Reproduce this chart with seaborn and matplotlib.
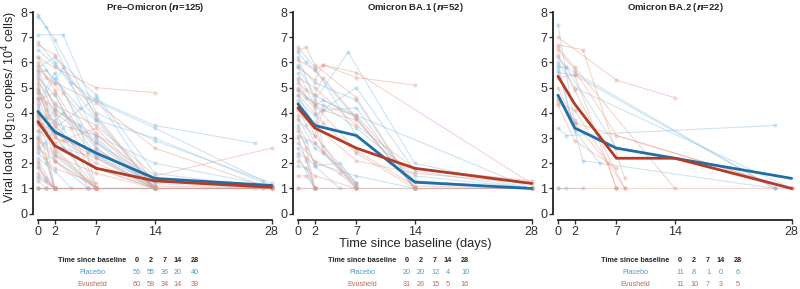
import matplotlib
matplotlib.use("Agg")
import matplotlib.pyplot as plt
import seaborn as sns
import pandas as pd

# panels, sample sizes, scheduled days
panels = ["Pre\u2212Omicron", "Omicron BA.1", "Omicron BA.2"]
n_patients = [125, 52, 22]
days = [0, 2, 7, 14, 28]
arms = ["Placebo", "Evusheld"]

# mean viral load per panel / arm at the scheduled days
mean_placebo = [
    [4.05, 3.25, 2.4, 1.4, 1.12],
    [4.35, 3.5, 3.1, 1.25, 1.0],
    [4.7, 3.4, 2.6, 2.2, 1.4],
]
mean_evusheld = [
    [3.65, 2.7, 1.8, 1.3, 1.05],
    [4.2, 3.4, 2.6, 1.8, 1.2],
    [5.45, 4.35, 2.2, 2.2, 1.0],
]

# numbers at risk under each panel
risk_placebo = [[56, 55, 36, 20, 40], [20, 20, 12, 4, 10], [11, 8, 1, 0, 6]]
risk_evusheld = [[60, 58, 34, 14, 39], [31, 26, 15, 5, 16], [11, 10, 7, 3, 5]]

# individual patient trajectories, "day:value" pairs
pre_placebo = [
    "0:7.9 2:6.9 7:3.8 14:1", "0:7.8 1:7.4 4:5.2 7:4.5 14:3.5 26:2.8",
    "0:7.1 3:7.1 7:4 14:2.9 28:1.2", "0:6.5 2:5.9 6:4.6 14:3.4 27:1.3",
    "0:5.8 2:6.2 7:4.7 14:1.6 28:1", "0:5.6 1:5.7 5:4.2 7:3.7 14:1",
    "0:5.2 2:4.4 7:2.6 14:1.1", "0:4.9 2:3.9 6:1", "0:4.6 1:3.8 2:2.3 7:1",
    "0:4.4 2:5.6 5:3.5 7:1", "0:4.1 2:3.2 3:2.6 7:1.8 14:1", "0:3.9 2:2.7 7:2.2 14:1",
    "0:3.6 1:2.8 2:1", "0:3.3 2:4.1 3:3.4 7:1", "0:3.0 2:2.4 7:1", "0:2.8 1:2 2:1",
    "0:2.5 2:3.3 7:2.3 14:1.2 28:1", "0:2.2 2:1.7 4:1", "0:2.0 1:1.4 2:1",
    "0:1.8 2:1 7:1 14:1", "0:1.5 2:1", "0:1.3 1:1", "0:5.0 2:3.6 7:3.1 14:2.0 28:1.1",
    "0:6.8 2:6.0 7:3.7 14:3.0 28:1.1", "0:5.4 2:4.7 6:2.5 14:1 27:1",
    "0:4.2 2:5.4 7:2.6 14:1 28:1", "0:3.1 3:4 7:2.9 14:1", "0:6.2 2:5.2 3:5.8 7:3.0 14:1",
    "0:1 2:1 7:1 14:1 28:1", "0:2.6 2:2.1 6:1 14:1", "0:4.8 1:4.1 2:3.4 7:4.6 14:1.1",
    "0:1 1:1 2:1 6:1 26:1", "0:5.7 2:4.2 7:2.8 14:1.4 28:1.1",
]
pre_evusheld = [
    "0:6.7 2:6.3 7:3.9 14:1", "0:6.2 2:5.8 7:5 14:4.8", "0:5.9 1:5.4 3:4.8 7:3.2 14:1",
    "0:5.5 2:4.3 7:3.5 14:1.5 28:2.6", "0:5.3 2:4 7:2.8 14:1", "0:5.1 1:3.9 2:3.1 7:1",
    "0:4.8 2:3.5 7:1.8 14:1", "0:4.5 2:4.8 4:3.4 7:1", "0:4.3 2:3.0 7:2.5 14:1.3 28:1",
    "0:4.0 2:2.6 7:1", "0:3.8 1:3.3 2:2.1 7:1", "0:3.5 2:1", "0:3.3 2:2.8 7:3.4 14:1",
    "0:3.0 2:2.1 7:1", "0:2.7 1:2.2 2:1", "0:2.4 2:1.8 7:1.2", "0:2.1 2:1",
    "0:1.9 1:1.3 2:1", "0:1.6 2:1", "0:1 2:1 7:1 14:1 28:1", "0:5.7 2:5.2 7:4.4 14:2.6 28:1",
    "0:4.9 2:4.1 7:3.1 14:1.4 28:1.1", "0:3.7 2:3.2 6:2.4 14:1.1 28:1",
    "0:2.9 2:2.3 7:1.6 14:1 28:1", "0:6.0 2:4.9 7:2.2 14:1", "0:4.6 1:4.4 2:2.5 7:1",
    "0:1.4 2:1 7:1", "0:3.9 2:3.7 3:2.9 7:2 14:1", "0:1 1:1 2:1 7:1 27:1",
]
ba1_placebo = [
    "0:6.6 2:5.8 7:3.1 14:1.3 28:1", "0:6.4 1:6 2:5.7 14:1", "0:6.2 2:4.5 6:6.4 14:2 28:1",
    "0:5.9 2:5.2 7:4.5 14:1", "0:5.6 2:4.3 3:4.5 7:3.9 28:1", "0:5.3 1:4.6 3:4.1 7:4.2 14:1",
    "0:4.9 2:4.2 3:2.7 7:1.2", "0:4.5 2:3.9 7:5 14:1.7 28:1", "0:4.2 1:3.5 2:2.8 7:1",
    "0:3.8 2:2.6 3:2.4 7:1.1", "0:3.5 1:2.9 2:1.9 5:1", "0:3.3 2:2 7:1.5 14:1",
    "0:3.0 1:2.1 2:1", "0:2.6 2:1.9 5:2 7:1.2", "0:2.3 2:1", "0:1.9 1:1.8 2:1",
    "0:1 2:1 7:1 14:1 28:1", "0:4.7 2:3.5 3:4.3 7:3.4 14:1.5 28:1",
    "0:5.8 2:4.7 7:3.8 14:1 28:1",
]
ba1_evusheld = [
    "0:6.5 1:6.6 2:5.9 7:4.6 14:1 28:1", "0:6.1 2:5.7 3:5.9 7:5.4 14:5.1",
    "0:5.8 2:5.3 3:5.9 7:5.6 28:1.2", "0:5.4 2:5 7:3.5 14:1.8 28:1.3",
    "0:5.2 1:4.9 2:4.7 3:5.4 7:3.8 14:1", "0:4.9 2:4.4 7:3.9 14:1.3 28:1",
    "0:4.7 2:4 3:3.6 7:2.4 14:1", "0:4.4 1:3.8 2:3.1 7:1", "0:4.1 2:3.5 7:2.1 14:1.6 28:1.2",
    "0:3.7 2:3.1 3:4.1 7:3.7", "0:3.4 1:2.6 2:1", "0:3.1 2:2.8 7:1.2",
    "0:2.8 2:2.1 5:1.6 7:1", "0:2.4 1:2.2 2:1", "0:2.1 2:1.5 7:1", "0:1.5 1:1.5 2:1",
    "0:1 2:1 7:1 14:1 28:1", "0:5.0 2:4.3 7:2.5 14:1.1 28:1", "0:3.9 2:3.6 3:2.5 7:1.1",
]
ba2_placebo = [
    "0:7.5 2:3.6", "0:6.2 1:5.8 2:5.6 26:1", "0:6.0 2:5.0 28:1", "0:5.8 1:5.8 7:2.6",
    "0:5.6 2:5.5 26:1", "0:5.7 3:2.1 26:1", "0:3.4 1:3.1 26:3.5", "0:1 1:1 3:1",
    "0:4.6 2:3.7", "0:5.9 2:3.3 5:2.0",
]
ba2_evusheld = [
    "0:7.0 7:5.3 14:4.6", "0:6.7 3:6.5 8:1.4", "0:6.6 2:5.8 14:1", "0:6.5 2:5.7 7:3.1 28:1",
    "0:6.3 2:4.9 8:1", "0:5.4 2:5.5 7:1", "0:4.5 2:3.6 28:1", "0:4.3 2:2.9 7:1.8",
    "0:1 7:1 28:1", "0:5.0 2:3.6 6:2 7:1", "0:4.4 2:4.1 8:1",
]
trajectories = [
    (pre_placebo, pre_evusheld),
    (ba1_placebo, ba1_evusheld),
    (ba2_placebo, ba2_evusheld),
]


def to_frame(trajs, arm):
    rows = []
    for pid, s in enumerate(trajs):
        for pair in s.split():
            d, v = pair.split(":")
            rows.append({"pid": f"{arm}{pid}", "arm": arm, "day": float(d), "vl": float(v)})
    return pd.DataFrame(rows)


light = {"Placebo": "#84bcdf", "Evusheld": "#e59a8a"}
dark = {"Placebo": "#1f6ea8", "Evusheld": "#b23c27"}
text_col = {"Placebo": "#4f9bc9", "Evusheld": "#c2685a"}

sns.set_theme(style="ticks")
plt.rcParams["font.family"] = ["Liberation Sans", "DejaVu Sans"]

W, H = 800, 289
fig = plt.figure(figsize=(W / 100, H / 100), dpi=100)

lefts = [33, 293, 553]
for i, panel in enumerate(panels):
    ax = fig.add_axes([lefts[i] / W, 69 / H, 242 / W, 210.5 / H])
    ind = pd.concat([to_frame(trajectories[i][0], "Placebo"),
                     to_frame(trajectories[i][1], "Evusheld")], ignore_index=True)
    sns.lineplot(data=ind, x="day", y="vl", hue="arm", units="pid", estimator=None,
                 palette=light, alpha=0.4, lw=0.8, marker="o", markersize=3,
                 markeredgewidth=0, legend=False, ax=ax)
    mean = pd.DataFrame({
        "day": days * 2,
        "vl": mean_placebo[i] + mean_evusheld[i],
        "arm": ["Placebo"] * 5 + ["Evusheld"] * 5,
    })
    sns.lineplot(data=mean, x="day", y="vl", hue="arm", palette=dark, lw=2,
                 legend=False, ax=ax)

    ax.set_xlim(-0.6, 28.4)
    ax.set_ylim(-0.25, 8.1)
    ax.set_xticks(days)
    ax.set_yticks(range(9))
    ax.set_xlabel("")
    ax.set_ylabel("")
    sns.despine(ax=ax)
    ax.spines["left"].set_bounds(0, 8)
    ax.spines["bottom"].set_bounds(0, 28)
    for sp in ["left", "bottom"]:
        ax.spines[sp].set_linewidth(1.3)
        ax.spines[sp].set_color("#222222")
    ax.tick_params(labelsize=9, colors="#333333", length=3, width=1, pad=1.5)
    ax.tick_params(axis="y", pad=1)

    cx = (lefts[i] + 5 + 234 / 2) / W
    fig.text(cx, 1 - 8 / H, panel + r" ($\mathbfit{n}$=" + f"{n_patients[i]})",
             ha="center", va="center", fontsize=6.8, fontweight="bold")

    # numbers at risk table
    off = [0, 270, 543][i]
    ncols = [137, 151, 165, 178, 195]
    fig.text((92 + off) / W, 1 - 260 / H, "Time since baseline", ha="center",
             va="center", fontsize=5.2, fontweight="bold")
    for c, d in zip(ncols, days):
        fig.text((c + off) / W, 1 - 260 / H, str(d), ha="center", va="center",
                 fontsize=5.2, fontweight="bold")
    for y, arm, vals in [(273, "Placebo", risk_placebo[i]), (284, "Evusheld", risk_evusheld[i])]:
        fig.text((92 + off) / W, 1 - y / H, arm, ha="center", va="center",
                 fontsize=5.2, color=text_col[arm])
        for c, v in zip(ncols, vals):
            fig.text((c + off) / W, 1 - y / H, str(v), ha="center", va="center",
                     fontsize=5.2, color=text_col[arm])

fig.text(10 / W, 1 - 107 / H, r"Viral load ( log$_{10}$ copies/ 10$^4$ cells)",
         rotation=90, ha="center", va="center", fontsize=9)
fig.text(415 / W, 1 - 244 / H, "Time since baseline (days)", ha="center",
         va="center", fontsize=9.3)

plt.savefig("out.png", dpi=100)
